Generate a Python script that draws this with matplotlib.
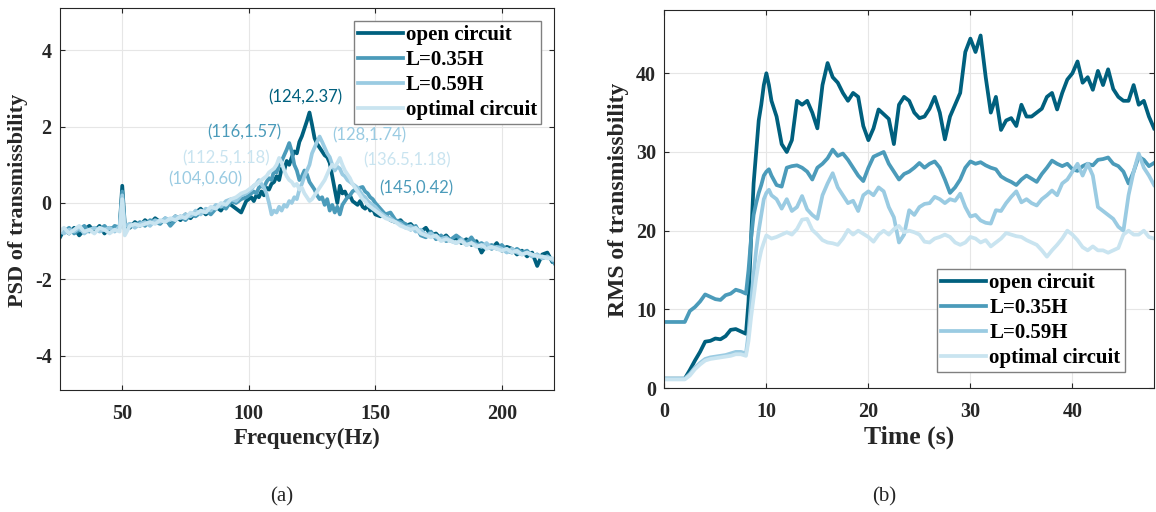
import matplotlib
matplotlib.use("Agg")
import matplotlib.pyplot as plt

# -----------------------------------------------------------------------------
# (a) PSD of transmissibility vs frequency, (b) running RMS vs time,
# for four shunt circuit settings.
# -----------------------------------------------------------------------------

SERIES_LABELS = ["open circuit", "L=0.35H", "L=0.59H", "optimal circuit"]
SERIES_COLORS = ["#00607e", "#4b9bba", "#9acbe2", "#c9e4f0"]

# ---- panel (a) ----
FREQ = [
    25, 27, 29, 31, 33, 35, 37, 39, 41, 43, 45, 47, 49, 50,
    51, 53, 55, 57, 59, 61, 63, 65, 67, 69, 71, 73, 75, 77, 79,
    81, 83, 85, 87, 89, 91, 93, 95, 97, 99,
    100, 101, 102, 103, 104, 105, 106, 107, 108, 109,
    110, 111, 112, 113, 114, 115, 116, 117, 118, 119,
    120, 121, 122, 123, 124, 125, 126, 127, 128, 129,
    130, 131, 132, 133, 134, 135, 136, 137, 138, 139,
    140, 141, 142, 143, 144, 145, 146, 147, 148, 149, 150,
    152, 154, 156, 158, 160, 162, 164, 166, 168, 170,
    172, 174, 176, 178, 180, 182, 184, 186, 188, 190,
    192, 194, 196, 198, 200, 202, 204, 206, 208, 210,
    212, 214, 216, 218, 220, 221,
]

PSD_OPEN = [
    -0.95, -0.7, -0.8, -0.65, -0.85, -0.7, -0.6, -0.75, -0.6, -0.8, -0.65, -0.7, -0.6, 0.45,
    -0.55, -0.65, -0.5, -0.6, -0.45, -0.55, -0.4, -0.5, -0.45, -0.55, -0.35, -0.45, -0.3, -0.4, -0.25,
    -0.15, -0.3, -0.2, -0.1, -0.2, 0.0, -0.05, -0.15, -0.25, 0.05,
    0.1, 0.15, 0.05, 0.2, 0.15, 0.3, 0.2, 0.4, 0.35, 0.5,
    0.55, 0.7, 0.6, 0.9, 0.85, 1.1, 1.0, 1.2, 1.35, 1.3,
    1.6, 1.75, 1.95, 2.15, 2.37, 2.05, 1.7, 1.55, 1.45, 1.35,
    1.25, 1.2, 1.05, 0.7, 0.35, 0.0, 0.45, 0.25, 0.3, 0.15,
    0.2, 0.05, 0.0, -0.05, 0.05, -0.1, -0.15, -0.05, -0.2, -0.15, -0.3,
    -0.35, -0.3, -0.45, -0.5, -0.45, -0.6, -0.55, -0.7, -0.75, -0.65,
    -0.85, -0.8, -0.95, -0.85, -1.0, -0.9, -1.05, -0.95, -1.1, -1.0,
    -1.3, -1.1, -1.2, -1.05, -1.25, -1.15, -1.2, -1.35, -1.25, -1.4,
    -1.3, -1.65, -1.35, -1.3, -1.55, -1.5,
]

PSD_L035 = [
    -0.8, -0.75, -0.65, -0.8, -0.7, -0.6, -0.75, -0.65, -0.7, -0.6, -0.75, -0.6, -0.65, 0.3,
    -0.7, -0.55, -0.6, -0.5, -0.6, -0.45, -0.5, -0.55, -0.4, -0.6, -0.45, -0.35, -0.45, -0.3, -0.35,
    -0.25, -0.2, -0.3, -0.15, -0.05, -0.15, 0.05, 0.0, 0.1, 0.15,
    0.2, 0.25, 0.3, 0.25, 0.4, 0.45, 0.4, 0.55, 0.65, 0.6,
    0.85, 0.8, 1.0, 1.1, 1.25, 1.4, 1.57, 1.35, 1.0, 0.85,
    0.6, 0.7, 0.85, 0.75, 0.55, 0.45, 0.35, 0.2, 0.1, 0.15,
    -0.05, 0.1, -0.2, -0.05, -0.25, -0.1, -0.3, -0.05, 0.05, 0.15,
    0.2, 0.3, 0.35, 0.3, 0.4, 0.42, 0.3, 0.25, 0.15, 0.1, 0.0,
    -0.15, -0.3, -0.25, -0.45, -0.5, -0.55, -0.7, -0.6, -0.85, -0.9,
    -0.75, -0.95, -0.85, -1.0, -0.95, -0.85, -0.95, -1.05, -0.9, -1.1,
    -1.05, -1.15, -1.1, -1.2, -1.1, -1.25, -1.3, -1.2, -1.3, -1.25,
    -1.4, -1.35, -1.45, -1.4, -1.5, -1.6,
]

PSD_L059 = [
    -0.7, -0.8, -0.7, -0.75, -0.65, -0.8, -0.7, -0.65, -0.75, -0.7, -0.65, -0.75, -0.6, 0.2,
    -0.6, -0.55, -0.65, -0.55, -0.5, -0.6, -0.45, -0.5, -0.4, -0.45, -0.35, -0.4, -0.3, -0.35, -0.2,
    -0.3, -0.15, -0.2, -0.05, -0.1, 0.05, 0.1, 0.05, 0.2, 0.25,
    0.3, 0.35, 0.45, 0.5, 0.6, 0.5, 0.4, 0.25, 0.0, -0.3,
    -0.2, -0.25, -0.1, -0.2, -0.05, -0.1, 0.05, 0.0, 0.15, 0.1,
    0.35, 0.5, 0.7, 0.85, 1.0, 1.3, 1.45, 1.6, 1.74, 1.6,
    1.45, 1.3, 1.2, 1.0, 0.85, 0.95, 0.9, 0.75, 0.7, 0.6,
    0.55, 0.5, 0.45, 0.4, 0.3, 0.2, 0.15, 0.05, 0.0, -0.05, -0.1,
    -0.25, -0.35, -0.4, -0.5, -0.55, -0.65, -0.6, -0.75, -0.7, -0.85,
    -0.8, -0.9, -0.95, -0.9, -1.0, -1.05, -0.95, -1.1, -1.05, -1.1,
    -1.15, -1.05, -1.2, -1.15, -1.2, -1.3, -1.2, -1.3, -1.35, -1.3,
    -1.4, -1.35, -1.45, -1.4, -1.5, -1.45,
]

PSD_OPTIMAL = [
    -0.75, -0.65, -0.8, -0.7, -0.6, -0.75, -0.7, -0.8, -0.65, -0.7, -0.8, -0.7, -0.75, 0.1,
    -0.85, -0.6, -0.55, -0.6, -0.55, -0.5, -0.55, -0.45, -0.5, -0.4, -0.45, -0.35, -0.4, -0.25, -0.3,
    -0.2, -0.25, -0.1, -0.15, 0.0, -0.05, 0.1, 0.15, 0.25, 0.3,
    0.35, 0.4, 0.45, 0.5, 0.55, 0.6, 0.65, 0.7, 0.8, 0.85,
    0.9, 1.0, 1.18, 1.05, 0.85, 0.7, 0.6, 0.55, 0.45, 0.5,
    0.35, 0.4, 0.25, 0.15, 0.05, 0.1, 0.2, 0.3, 0.4, 0.5,
    0.6, 0.75, 0.9, 1.0, 0.95, 1.05, 1.18, 1.0, 0.85, 0.75,
    0.65, 0.5, 0.4, 0.3, 0.2, 0.1, 0.05, -0.05, -0.1, -0.15, -0.2,
    -0.3, -0.4, -0.45, -0.5, -0.6, -0.65, -0.7, -0.65, -0.8, -0.85,
    -0.9, -0.85, -1.0, -0.95, -1.0, -1.05, -1.0, -1.1, -1.05, -1.15,
    -1.1, -1.2, -1.15, -1.2, -1.25, -1.2, -1.3, -1.25, -1.35, -1.3,
    -1.35, -1.4, -1.4, -1.45, -1.45, -1.5,
]

# peak annotations: text, label position (Hz, PSD), colour index
PEAK_TEXTS = ["(124,2.37)", "(116,1.57)", "(128,1.74)", "(112.5,1.18)",
              "(136.5,1.18)", "(104,0.60)", "(145,0.42)"]
PEAK_X = [122.2, 98.1, 147.5, 91.0, 162.6, 82.7, 166.4]
PEAK_Y = [2.76, 1.86, 1.77, 1.17, 1.12, 0.63, 0.39]
PEAK_COLOR_IDX = [0, 1, 2, 3, 3, 2, 1]

# ---- panel (b) ----
TIME = [
    0, 0.5, 1, 1.5, 2, 2.5, 3, 3.5, 4, 4.5, 5, 5.5, 6, 6.5, 7, 7.5, 8,
    8.25, 8.5, 8.75, 9, 9.25, 9.5, 9.75, 10, 10.25,
    10.5, 11, 11.5, 12, 12.5, 13, 13.5, 14, 14.5, 15,
    15.5, 16, 16.5, 17, 17.5, 18, 18.5, 19, 19.5, 20,
    20.5, 21, 21.5, 22, 22.5, 23, 23.5, 24, 24.5, 25,
    25.5, 26, 26.5, 27, 27.5, 28, 28.5, 29, 29.5, 30,
    30.5, 31, 31.5, 32, 32.5, 33, 33.5, 34, 34.5, 35,
    35.5, 36, 36.5, 37, 37.5, 38, 38.5, 39, 39.5, 40,
    40.5, 41, 41.5, 42, 42.5, 43, 43.5, 44, 44.5, 45,
    45.5, 46, 46.5, 47, 47.5, 48,
]

RMS_OPEN = [
    1.2, 1.2, 1.2, 1.2, 1.2, 2.3, 3.5, 4.6, 5.9, 6.0, 6.3, 6.2, 6.6, 7.4, 7.5, 7.2, 6.9,
    11, 19, 26, 30, 34, 36, 38.5, 40, 38.5,
    36.5, 34.5, 31, 30, 31.5, 36.5, 36, 36.5, 35, 33,
    38.5, 41.3, 39.5, 38.8, 37.5, 36.5, 37.5, 37, 33.3, 31.5,
    33, 35.4, 34.8, 34.2, 31, 36, 37, 36.5, 35, 34.3,
    34.5, 35.5, 37, 35, 31.6, 34.5, 36, 37.5, 42.7, 44.4,
    42.7, 44.8, 39.5, 35, 37, 32.8, 34, 34.3, 33.3, 36,
    34.5, 34.5, 35, 35.5, 37, 37.5, 35.4, 37.5, 39.2, 40,
    41.5, 38.8, 39.5, 37.9, 40.3, 38.5, 40.5, 38, 37, 36.5,
    36.5, 38.5, 36, 36.5, 34.5, 33,
]

RMS_L035 = [
    8.4, 8.4, 8.4, 8.4, 8.4, 9.8, 10.3, 11.0, 11.9, 11.6, 11.3, 11.2, 11.8, 12.0, 12.5, 12.3, 12.0,
    15, 19, 22, 23.5, 24.8, 25.8, 27, 27.5, 27.8,
    27, 25.8, 25.6, 28, 28.2, 28.3, 28, 27.5, 26.5, 28,
    28.5, 29.2, 30.3, 29.5, 29.8, 29, 28, 27, 26.3, 28,
    29.4, 29.7, 30, 28.5, 27.5, 26.5, 27.2, 27.5, 28, 28.6,
    28, 28.5, 28.8, 28, 26.5, 24.8, 25.5, 26.5, 28, 28.8,
    28.5, 28.7, 28.3, 28, 27.8, 26.9, 26.5, 26.2, 25.8, 26.5,
    27, 26.6, 26.2, 27.2, 28, 28.9, 28.5, 28.2, 28.5, 27.8,
    27.6, 28.2, 28.5, 28.3, 29, 29.1, 29.3, 28.5, 28.2, 27.5,
    26, 27.5, 29.4, 29, 28.2, 28.6,
]

RMS_L059 = [
    1.2, 1.2, 1.2, 1.2, 1.2, 1.8, 2.6, 3.2, 3.7, 3.9, 4.0, 4.1, 4.2, 4.4, 4.6, 4.6, 4.4,
    7, 11, 14.5, 17.5, 20, 22, 24, 24.8, 25.2,
    24.5, 24, 22.8, 24, 22.5, 23, 24.4, 22.7, 22, 21.5,
    24.5, 26, 27.3, 25.5, 24.5, 23.5, 23.8, 22.5, 24.5, 25,
    24.5, 25.5, 25, 23, 21.7, 18.5, 19.5, 22.6, 22, 23,
    23.4, 23.5, 24.3, 24, 23.5, 24, 23.8, 24.7, 23, 21.8,
    22, 21.3, 21, 20.9, 22.6, 22.5, 23.5, 24.3, 25, 23.6,
    24, 23.5, 23.2, 24, 24.5, 25.1, 24.5, 26, 26.5, 27.5,
    28.5, 27, 28.5, 27, 23, 22.5, 22, 21.5, 20.5, 20,
    24.5, 27.5, 29.8, 28, 27, 25.8,
]

RMS_OPTIMAL = [
    1.1, 1.1, 1.1, 1.1, 1.1, 1.6, 2.4, 3.0, 3.5, 3.7, 3.8, 3.9, 4.0, 4.1, 4.3, 4.3, 4.1,
    6, 9, 11.5, 14, 16, 17.5, 18.5, 19.4, 19.2,
    19, 19.2, 19.5, 19.8, 19.5, 20.2, 21.4, 21.5, 20.1, 19.5,
    18.8, 18.5, 18.4, 18.2, 19, 20.1, 19.5, 20, 19.6, 19.2,
    18.6, 19.5, 20, 19.5, 20.2, 20.6, 19.8, 20, 19.8, 19.5,
    18.6, 18.5, 19, 19.2, 19.5, 19.2, 18.5, 18.2, 18.5, 19.2,
    19, 18.5, 18.8, 18, 18.5, 19, 19.7, 19.5, 19.3, 19.2,
    18.8, 18.5, 18.2, 17.5, 16.7, 17.5, 18.2, 19, 20, 19.5,
    18.8, 17.9, 17.5, 18, 17.5, 17.5, 17.2, 17.5, 17.8, 19.5,
    20, 19.5, 19.5, 20, 19.2, 19,
]

SERIF = "Liberation Serif"
LINE_WIDTH = 2.7


def style_axes(ax):
    ax.grid(True, color="#e6e6e6", linewidth=0.8)
    ax.set_axisbelow(True)
    ax.tick_params(direction="in", length=3.6, width=0.8, top=True, right=True,
                   labelsize=14.5, colors="#262626", labelcolor="#262626")
    ax.tick_params(axis="x", pad=10)
    ax.tick_params(axis="y", pad=6)
    for spine in ax.spines.values():
        spine.set_color("#262626")
        spine.set_linewidth(0.8)


def add_legend(ax, loc, anchor):
    leg = ax.legend(loc=loc, bbox_to_anchor=anchor, borderaxespad=0,
                    prop={"family": SERIF, "weight": "bold", "size": 15},
                    handlelength=2.15, handletextpad=0.15, labelspacing=0.24,
                    borderpad=0.2, fancybox=False, framealpha=1,
                    edgecolor="#808080")
    leg.get_frame().set_linewidth(1.0)


def draw_psd(ax):
    series = [PSD_OPEN, PSD_L035, PSD_L059, PSD_OPTIMAL]
    for vals, label, color in zip(series, SERIES_LABELS, SERIES_COLORS):
        ax.plot(FREQ, vals, color=color, lw=LINE_WIDTH, label=label)

    for text, x, y, idx in zip(PEAK_TEXTS, PEAK_X, PEAK_Y, PEAK_COLOR_IDX):
        ax.text(x, y, text, color=SERIES_COLORS[idx], fontsize=12,
                family="Lato", weight="normal", ha="center", va="center")

    ax.set_xlim(25.4, 220.8)
    ax.set_ylim(-4.9, 5.1)
    ax.set_xticks([50, 100, 150, 200])
    ax.set_yticks([-4, -2, 0, 2, 4])
    style_axes(ax)

    ax.set_xlabel("Frequency(Hz)", fontsize=16.5, color="#262626")
    ax.xaxis.label.set_va("center")
    ax.xaxis.set_label_coords(0.5, -0.126)
    ax.set_ylabel("PSD of transmissbility", fontsize=16, color="#262626")
    ax.yaxis.label.set_va("center")
    ax.yaxis.set_label_coords(-0.084, 0.498)

    add_legend(ax, "upper right", (0.973, 0.967))


def draw_rms(ax):
    series = [RMS_OPEN, RMS_L035, RMS_L059, RMS_OPTIMAL]
    for vals, label, color in zip(series, SERIES_LABELS, SERIES_COLORS):
        ax.plot(TIME, vals, color=color, lw=LINE_WIDTH, label=label)

    ax.set_xlim(0, 48)
    ax.set_ylim(0, 48)
    ax.set_xticks([0, 10, 20, 30, 40])
    ax.set_yticks([0, 10, 20, 30, 40])
    style_axes(ax)

    ax.set_xlabel("Time (s)", fontsize=18.5, color="#262626")
    ax.xaxis.label.set_va("center")
    ax.xaxis.set_label_coords(0.5, -0.129)
    ax.set_ylabel("RMS of transmissbility", fontsize=17, color="#262626")
    ax.yaxis.label.set_va("center")
    ax.yaxis.set_label_coords(-0.093, 0.498)

    add_legend(ax, "lower right", (0.940, 0.042))


def main():
    plt.rcParams["axes.unicode_minus"] = False
    plt.rcParams["font.family"] = SERIF
    plt.rcParams["font.weight"] = "bold"
    plt.rcParams["axes.labelweight"] = "bold"

    fig = plt.figure(figsize=(11.56, 5.12), dpi=100)
    ax_a = fig.add_axes([0.0519, 0.2383, 0.4277, 0.7455])
    ax_b = fig.add_axes([0.5747, 0.2420, 0.4236, 0.7379])

    draw_psd(ax_a)
    draw_rms(ax_b)

    fig.text(282 / 1156, 1 - 497 / 512, "(a)", fontsize=15, weight="normal",
             ha="center", va="center", color="#262626")
    fig.text(884 / 1156, 1 - 497 / 512, "(b)", fontsize=15, weight="normal",
             ha="center", va="center", color="#262626")

    fig.savefig("out.png", dpi=100)
    plt.close(fig)


if __name__ == "__main__":
    main()
